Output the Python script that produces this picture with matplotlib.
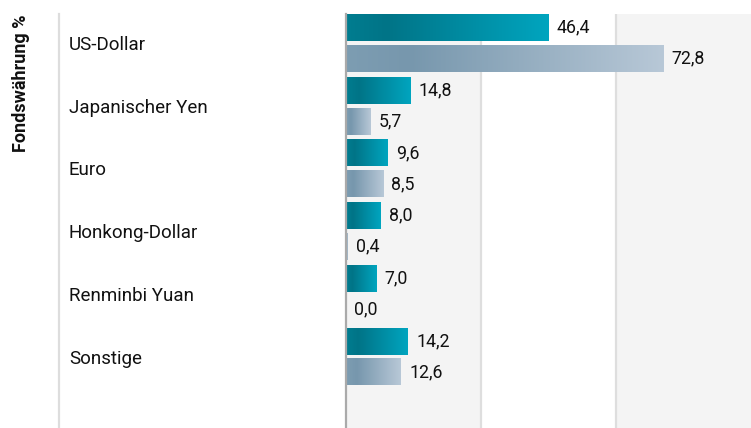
import numpy as np
import matplotlib.pyplot as plt
from matplotlib.colors import LinearSegmentedColormap
from matplotlib.lines import Line2D

plt.rcParams['font.family'] = ['Roboto', 'DejaVu Sans']

# Data
categories = ["US-Dollar", "Japanischer Yen", "Euro", "Honkong-Dollar", "Renminbi Yuan", "Sonstige"]
fund_values = [46.4, 14.8, 9.6, 8.0, 7.0, 14.2]
bench_values = [72.8, 5.7, 8.5, 0.4, 0.0, 12.6]
band_edges = [0, 31, 62, 93]

# gradient colour maps for the two series
teal_cmap = LinearSegmentedColormap.from_list(
    "teal", [(0, "#007d90"), (0.2, "#007487"), (1, "#00a5bf")])
grey_cmap = LinearSegmentedColormap.from_list(
    "grey", [(0, "#7d9db2"), (0.2, "#7797ad"), (1, "#b8c8d7")])

W, H = 751, 428
fig = plt.figure(figsize=(W / 100, H / 100), dpi=100)
ax = fig.add_axes([346 / W, 0, (751 - 346) / W, (428 - 14) / H])

ax.set_xlim(band_edges[0], band_edges[-1])
ax.set_ylim(6.14, -0.4625)

# alternating background bands + grid lines
for i in range(len(band_edges) - 1):
    if i % 2 == 0:
        ax.axvspan(band_edges[i], band_edges[i + 1], color="#f4f4f4", zorder=0, lw=0)
for x in band_edges[1:-1]:
    ax.axvline(x, color="#dedede", lw=1.6, zorder=1)

bar_h = 0.43
offset = 0.247
grad = np.linspace(0, 1, 256).reshape(1, -1)

for i, (f, b) in enumerate(zip(fund_values, bench_values)):
    for val, dy, cmap in [(f, -offset, teal_cmap), (b, offset, grey_cmap)]:
        y0 = i + dy - bar_h / 2
        y1 = i + dy + bar_h / 2
        if val > 0:
            ax.imshow(grad, cmap=cmap, aspect="auto", extent=(0, val, y1, y0),
                      zorder=2, interpolation="bilinear")
        ax.annotate(f"{val:.1f}".replace(".", ","), xy=(val, i + dy),
                    xytext=(6, 0), textcoords="offset points",
                    va="center", ha="left", fontsize=12.8, color="#111111")

# restore limits after imshow
ax.set_xlim(band_edges[0], band_edges[-1])
ax.set_ylim(6.14, -0.4625)

ax.set_yticks(range(len(categories)))
ax.set_yticklabels(categories, ha="left", fontsize=13.5, color="#111111")
ax.tick_params(axis="y", length=0, pad=(346 - 69) * 0.72)
ax.set_xticks([])

for s in ["top", "right", "bottom"]:
    ax.spines[s].set_visible(False)
ax.spines["left"].set_color("#aaaaaa")
ax.spines["left"].set_linewidth(1.6)
ax.spines["left"].set_zorder(3)

# left separator line
fig.add_artist(Line2D([59 / W, 59 / W], [0, (428 - 14) / H],
                      color="#dddddd", lw=1.6))

fig.text(21 / W, 1 - 15 / H, "Fondswährung %", rotation=90, ha="center",
         va="top", fontsize=13, fontweight="bold", color="#111111")

fig.savefig("out.png", dpi=100)
